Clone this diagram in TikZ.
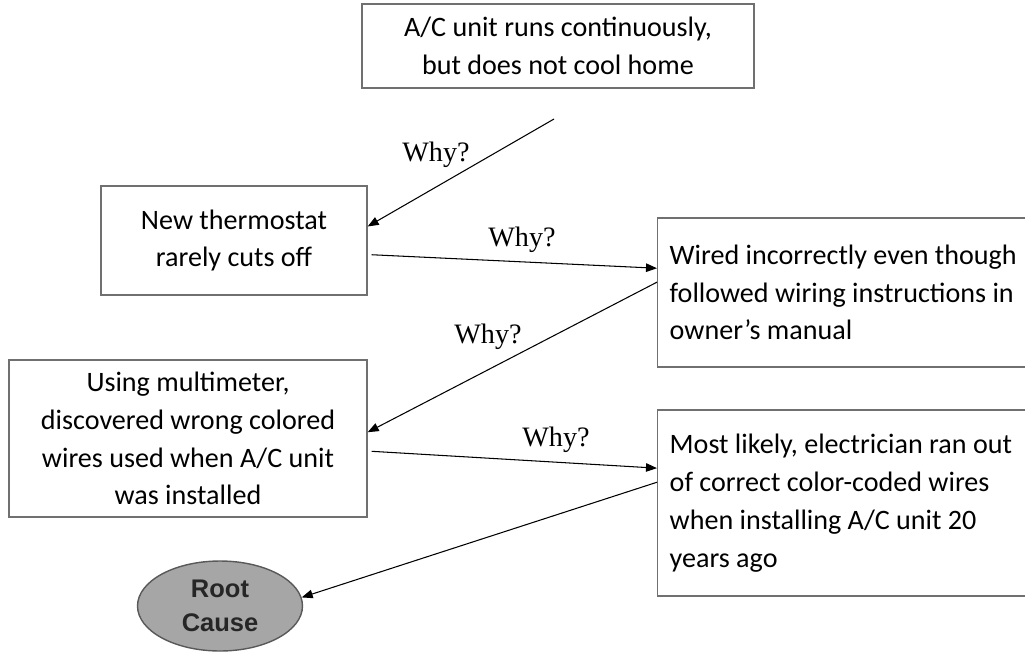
\documentclass[tikz,border=0pt]{standalone}
\usepackage{fontspec}
\setmainfont{Carlito}
\newfontfamily\whyfont{Liberation Serif}
\newfontfamily\rootfont{Liberation Sans}
\usepackage{tikz}
\usetikzlibrary{arrows.meta,shapes.geometric}
\definecolor{boxgray}{HTML}{707070}
\definecolor{rootfill}{HTML}{A6A6A6}
\definecolor{rootline}{HTML}{595959}
\tikzset{
  whybox/.style={draw=boxgray, line width=0.8pt, align=center, inner sep=0pt,
                 font=\fontsize{16}{21.5}\selectfont},
  whyleft/.style={whybox, align=flush left, anchor=west, inner xsep=0.24cm, text width=7.4cm},
  wa/.style={-{Triangle[length=2.2mm,width=1.7mm]}, line width=0.6pt},
  whylbl/.style={font=\whyfont\fontsize{16}{18}\selectfont},
  rootell/.style={ellipse, draw=rootline, fill=rootfill, line width=0.8pt, inner sep=0pt,
                  align=center, text=black!85, font=\rootfont\bfseries\fontsize{14.5}{19.5}\selectfont},
}

\begin{document}
\begin{tikzpicture}[x=0.02cm, y=-0.02cm]
  \useasboundingbox (0,0) rectangle (1025,653);
  \node[whybox, minimum width=7.84cm, minimum height=1.68cm] (symptom) at (558,46)
    {A/C unit runs continuously,\\ but does not cool home};
  \node[whybox, minimum width=5.32cm, minimum height=2.18cm] (thermo) at (234,240.5)
    {New thermostat\\ rarely cuts off};
  \node[whyleft, minimum height=2.98cm] (wired) at (657,292.5)
    {Wired incorrectly even though\\ followed wiring instructions in\\ owner’s manual};
  \node[whybox, minimum width=7.16cm, minimum height=3.14cm] (meter) at (188,438.5)
    {Using multimeter,\\ discovered wrong colored\\ wires used when A/C unit\\ was installed};
  \node[whyleft, minimum height=3.72cm] (electrician) at (657,503)
    {Most likely, electrician ran out\\ of correct color-coded wires\\ when installing A/C unit 20\\ years ago};
  \node[rootell, minimum width=3.3cm, minimum height=1.8cm] (root) at (220,606)
    {Root\\ Cause};
  \coordinate (start) at (554,119);
  % why? arrows
  \draw[wa] (start) -- (thermo.6.6);
  \draw[wa, shorten <=0.08cm] (thermo.-6.4) -- (wired.173.7);
  \draw[wa] (wired.177.8) -- (meter.2.7);
  \draw[wa, shorten <=0.08cm] (meter.-4.3) -- (electrician.170.4);
  \draw[wa] (electrician.174.7) -- (root.6);
  \node[whylbl] (why1) at (436,155){Why?};
  \node[whylbl] (why2) at (522,240){Why?};
  \node[whylbl] (why3) at (488,337){Why?};
  \node[whylbl] (why4) at (556,440){Why?};
\end{tikzpicture}
\end{document}
